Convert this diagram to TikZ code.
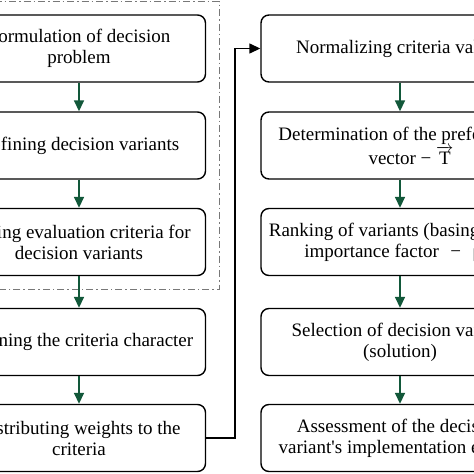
\documentclass[tikz,border=0pt]{standalone}
\usepackage{fontspec}
\setmainfont{Liberation Serif}
\usetikzlibrary{arrows.meta}
\definecolor{arrgreen}{RGB}{18,88,58}
\definecolor{dashgray}{RGB}{120,120,120}
\tikzset{
  stepbox/.style={draw=black, line width=1.4pt, rounded corners=8pt, align=center,
    font=\fontsize{19}{21}\selectfont, inner sep=0pt},
  lbox/.style={stepbox, minimum width=253pt, minimum height=67pt},
  rbox/.style={stepbox, minimum width=278pt, minimum height=67pt},
  garrow/.style={draw=arrgreen, line width=1.6pt, -{Triangle[width=10pt,length=11pt]}, fill=arrgreen},
  barrow/.style={draw=black, line width=1.4pt, -{Triangle[width=10pt,length=11pt]}},
  dashframe/.style={draw=dashgray, line width=1pt, dash pattern=on 7pt off 3pt on 1.5pt off 3pt}
}
\begin{document}
\begin{tikzpicture}[x=1pt,y=-1pt]
\useasboundingbox (0,0) rectangle (474,474);
\clip (0,0) rectangle (474,474);
\draw[dashframe] (-20,1.5) -- (219,1.5) -- (219,289) -- (-20,289);
% left column
\node[lbox] (L1) at (79,48.5) {Formulation of decision\\problem};
\node[lbox] (L2) at (79,145.5) {Defining decision variants};
\node[lbox] (L3) at (79,242) {Setting evaluation criteria for\\decision variants};
\node[lbox] (L4) at (79,342) {Defining the criteria character};
\node[lbox] (L5) at (79,438) {Distributing weights to the\\criteria};
% right column
\node[rbox] (R1) at (400,48.5) {Normalizing criteria values};
\node[rbox] (R2) at (400,145.5) {Determination of the preference\\[1pt]\hspace*{22pt}vector − \(\overrightarrow{\hbox{T}}\)};
\node[rbox] (R3) at (400,242) {Ranking of variants (basing on the\\importance factor\hspace{0.6em}−\hspace{0.6em}μ)\hspace*{6.7pt}};
\node[rbox] (R4) at (400,342) {Selection of decision variant\\(solution)};
\node[rbox] (R5) at (400,438) {Assessment of the decision\\variant\textquotesingle s implementation effects};
% arrows
\foreach \a/\b in {L1/L2,L2/L3,L3/L4,L4/L5,R1/R2,R2/R3,R3/R4,R4/R5}
  \draw[garrow] (\a.south) -- (\b.north);
\coordinate (turn) at (235,438);
\draw[barrow] (L5.east) -- (turn) |- (R1.west);
\end{tikzpicture}
\end{document}
